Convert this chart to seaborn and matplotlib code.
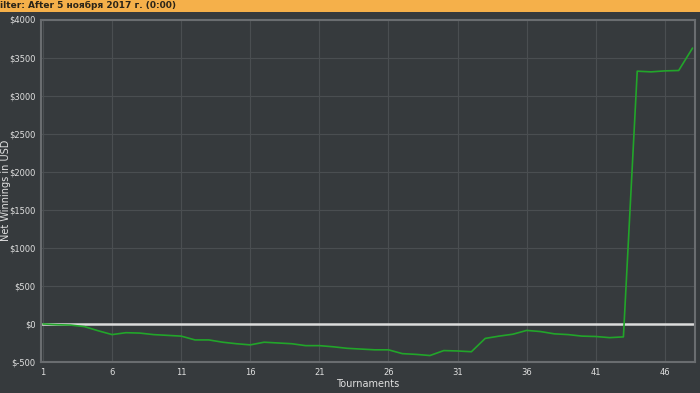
import matplotlib
matplotlib.use("Agg")
import matplotlib.pyplot as plt
import seaborn as sns
import pandas as pd
from matplotlib.patches import Rectangle

tournaments = list(range(1, 49))
net_winnings = [0, -10, -15, -35, -90, -140, -115, -120, -140, -150,
                -160, -210, -210, -240, -260, -275, -240, -250, -260, -285,
                -285, -300, -320, -330, -340, -340, -390, -400, -415, -350,
                -355, -365, -190, -160, -135, -85, -100, -130, -140, -160,
                -165, -180, -170, 3321, 3312, 3325, 3330, 3624]
x_ticks = [1, 6, 11, 16, 21, 26, 31, 36, 41, 46]
y_ticks = [-500, 0, 500, 1000, 1500, 2000, 2500, 3000, 3500, 4000]
y_tick_labels = ["$-500", "$0", "$500", "$1000", "$1500", "$2000", "$2500", "$3000", "$3500", "$4000"]
header = "ilter: After 5 ноября 2017 г. (0:00)"

df = pd.DataFrame({"Tournaments": tournaments, "Net": net_winnings})

sns.set_style("dark")
plt.rcParams['font.family'] = ['DejaVu Sans']
bg = "#363a3d"
fig = plt.figure(figsize=(7, 3.93), dpi=100, facecolor=bg)
ax = fig.add_axes([41/700, 31/393, 654/700, 342.5/393])
ax.set_facecolor(bg)

ax.axhline(0, color="#dcdcdc", lw=1.8, zorder=2)
sns.lineplot(data=df, x="Tournaments", y="Net", ax=ax, color="#22a52a", lw=1.2, zorder=3)

ax.set_xlim(0.855, 48.18)
ax.set_ylim(-500, 4000)
ax.set_xticks(x_ticks)
ax.set_yticks(y_ticks)
ax.set_yticklabels(y_tick_labels)
ax.grid(True, color="#4a4e51", lw=0.8)
for s in ax.spines.values():
    s.set_color("#6a6d70")
    s.set_linewidth(1.5)
ax.tick_params(colors="#e0e0e0", labelsize=6, length=2, width=0.8, pad=2)
ax.tick_params(axis="both", color="#6a6d70")
ax.set_xlabel("Tournaments", color="#e0e0e0", fontsize=7, labelpad=2)
ax.set_ylabel("Net Winnings in USD", color="#e0e0e0", fontsize=7)
ax.yaxis.set_label_coords(-30/654, 0.5)

fig.patches.append(Rectangle((0, 1 - 11.5/393), 1, 11.5/393, transform=fig.transFigure,
                             facecolor="#f5b04a", edgecolor="none", zorder=5))
fig.text(0.0, 1 - 5.8/393, header, fontsize=6.5, fontweight="bold", color="#2a2418",
         va="center", ha="left", zorder=6)

fig.savefig("out.png", dpi=100, facecolor=bg)
